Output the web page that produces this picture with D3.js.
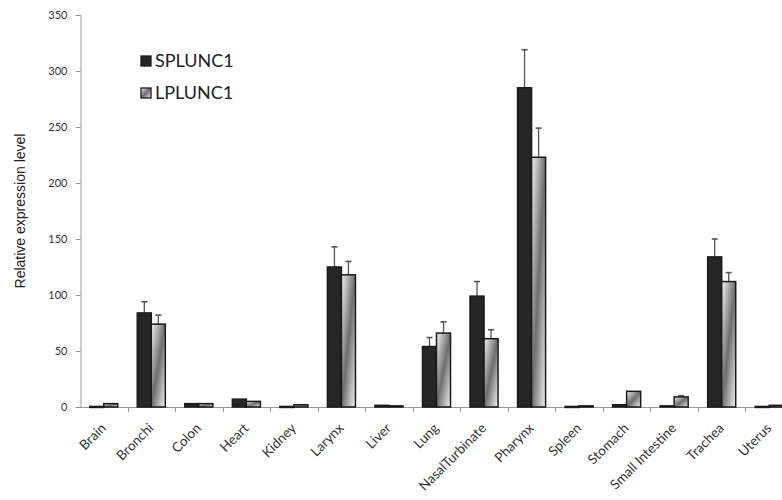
<!DOCTYPE html>
<html>
<head>
<meta charset="utf-8">
<script src="https://cdn.jsdelivr.net/npm/d3@7"></script>
<style>
  body { margin: 0; background: #fff; }
  svg { display: block; }
</style>
</head>
<body>
<div id="chart"></div>
<script>
// tissues along the x axis
var tissues = ["Brain", "Bronchi", "Colon", "Heart", "Kidney", "Larynx", "Liver", "Lung",
  "NasalTurbinate", "Pharynx", "Spleen", "Stomach", "Small Intestine", "Trachea", "Uterus"];
var seriesNames = ["SPLUNC1", "LPLUNC1"];
// mean values
var splunc1 = [0.5, 84, 3, 7, 0.5, 125, 1.5, 54, 99, 285, 0.5, 2, 1, 134, 0.5];
var lplunc1 = [3, 74, 3, 5, 2, 118, 1, 66, 61, 223, 1, 14, 9, 112, 1.5];
// top of the error bars (value + sd)
var splunc1Err = [0.5, 94, 3, 7, 0.5, 143, 1.5, 62, 112, 319, 0.5, 2, 1, 150, 0.5];
var lplunc1Err = [3, 82, 3, 5, 2, 130, 1, 76, 69, 249, 1, 14, 10, 120, 1.5];
var yTicks = [0, 50, 100, 150, 200, 250, 300, 350];

var width = 782, height = 500;
var margin = {left: 80, top: 15, bottom: 93};
var plotRight = 793; // the last category runs past the picture edge

var svg = d3.select("#chart").append("svg").attr("width", width).attr("height", height);

var defs = svg.append("defs");
var grad = defs.append("linearGradient").attr("id", "lgrad")
  .attr("x1", "0").attr("y1", "0").attr("x2", "1").attr("y2", "1");
grad.append("stop").attr("offset", "0%").attr("stop-color", "#f2f2f2");
grad.append("stop").attr("offset", "50%").attr("stop-color", "#6e6e6e");
grad.append("stop").attr("offset", "100%").attr("stop-color", "#f2f2f2");

var x = d3.scaleBand().domain(tissues).range([margin.left, plotRight]).paddingInner(0.41).paddingOuter(0.205);
var x1 = d3.scaleBand().domain(seriesNames).range([0, x.bandwidth()]);
var y = d3.scaleLinear().domain([0, 350]).range([height - margin.bottom, margin.top]);

var rows = tissues.map(function(t, i) {
  return {tissue: t, vals: [
    {s: "SPLUNC1", v: splunc1[i], e: splunc1Err[i]},
    {s: "LPLUNC1", v: lplunc1[i], e: lplunc1Err[i]}
  ]};
});

// y axis
var yAxis = svg.append("g").attr("transform", "translate(" + (margin.left + 0.5) + ",0)")
  .call(d3.axisLeft(y).tickValues(yTicks).tickSize(5).tickPadding(8));
yAxis.selectAll("path, line").attr("stroke", "#9a9a9a");
yAxis.selectAll("text").attr("font-family", "Lato, 'Open Sans', sans-serif").attr("font-size", 11).attr("fill", "#333");

svg.append("text")
  .attr("transform", "translate(25," + y(175) + ") rotate(-90)")
  .attr("text-anchor", "middle")
  .attr("font-family", "'Liberation Sans', Arial, sans-serif")
  .attr("font-size", 14).attr("fill", "#222")
  .text("Relative expression level");

// x axis line and ticks at category boundaries
var step = x.step();
var xg = svg.append("g");
xg.append("line").attr("x1", margin.left).attr("x2", plotRight)
  .attr("y1", y(0) + 0.5).attr("y2", y(0) + 0.5).attr("stroke", "#9a9a9a");
xg.selectAll(".tk").data(tissues).enter().append("line")
  .attr("x1", function(d) { return Math.round(x(d) + x.bandwidth() + x.paddingInner() * step / 2) + 0.5; })
  .attr("x2", function(d) { return Math.round(x(d) + x.bandwidth() + x.paddingInner() * step / 2) + 0.5; })
  .attr("y1", y(0)).attr("y2", y(0) + 5).attr("stroke", "#9a9a9a");

xg.selectAll(".lbl").data(tissues).enter().append("text")
  .attr("transform", function(d) {
    return "translate(" + (x(d) + x.bandwidth() / 2 + 3) + "," + (y(0) + 22) + ") rotate(-45)";
  })
  .attr("text-anchor", "end")
  .attr("font-family", "Lato, 'Open Sans', sans-serif")
  .attr("font-size", 13.5).attr("fill", "#333")
  .text(function(d) { return d; });

// bars
var groups = svg.selectAll(".grp").data(rows).enter().append("g")
  .attr("transform", function(d) { return "translate(" + x(d.tissue) + ",0)"; });

groups.selectAll(".err").data(function(d) { return d.vals; }).enter().append("g")
  .each(function(d) {
    if (d.e - d.v < 1) return;
    var cx = x1(d.s) + x1.bandwidth() / 2;
    var g = d3.select(this);
    g.append("line").attr("x1", cx).attr("x2", cx).attr("y1", y(d.v)).attr("y2", y(d.e))
      .attr("stroke", "#555").attr("stroke-width", 1.3);
    g.append("line").attr("x1", cx - 3).attr("x2", cx + 3).attr("y1", y(d.e)).attr("y2", y(d.e))
      .attr("stroke", "#555").attr("stroke-width", 1.6);
  });

groups.selectAll(".bar").data(function(d) { return d.vals; }).enter().append("rect")
  .attr("x", function(d) { return x1(d.s); })
  .attr("width", x1.bandwidth())
  .attr("y", function(d) { return y(d.v); })
  .attr("height", function(d) { return Math.max(1, y(0) - y(d.v)); })
  .attr("fill", function(d) { return d.s == "SPLUNC1" ? "#262626" : "url(#lgrad)"; })
  .attr("stroke", "#1a1a1a").attr("stroke-width", 1.5);

// legend
var legend = svg.append("g").attr("transform", "translate(141,56)");
seriesNames.forEach(function(s, i) {
  var g = legend.append("g").attr("transform", "translate(0," + (i * 32) + ")");
  g.append("rect").attr("width", 10).attr("height", 10)
    .attr("fill", i == 0 ? "#262626" : "url(#lgrad)").attr("stroke", "#1a1a1a").attr("stroke-width", 1.3);
  g.append("text").attr("x", 14).attr("y", 10.5)
    .attr("font-family", "Lato, 'Open Sans', sans-serif").attr("font-size", 18).attr("fill", "#222")
    .text(s);
});
</script>
</body>
</html>
